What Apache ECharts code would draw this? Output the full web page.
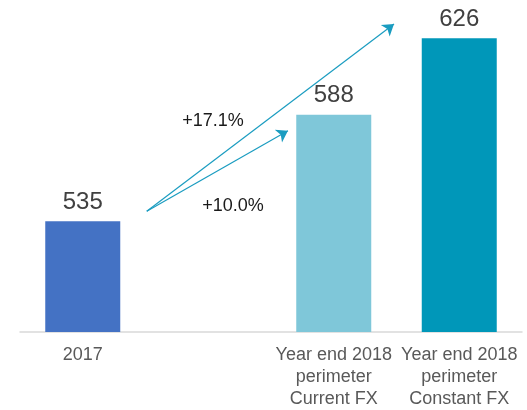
<!DOCTYPE html>
<html>
<head>
<meta charset="utf-8">
<script src="https://cdn.jsdelivr.net/npm/echarts@6/dist/echarts.min.js"></script>
<style>html,body{margin:0;padding:0;background:#fff}#c{width:527px;height:410px}</style>
</head>
<body>
<div id="c"></div>
<script>
const categories = ['2017', '', 'Year end 2018\nperimeter\nCurrent FX', 'Year end 2018\nperimeter\nConstant FX'];
const values = [535, null, 588, 626];
const barColors = ['#4472C4', '#4472C4', '#7FC7D9', '#0097B9'];
const arrowStart = [0.51, 540];
const arrowEnds = [[2.48, 633], [1.635, 580]];
const growthLabels = ['+17.1%', '+10.0%'];
const growthLabelPos = [[1.038, 585.0], [1.197, 542.4]];

const chart = echarts.init(document.getElementById('c'), null, {renderer: 'canvas'});
const font = '"Liberation Sans", Arial, sans-serif';
chart.setOption({
  animation: false,
  grid: {left: 20, right: 5, top: 10, bottom: 77, containLabel: false},
  xAxis: [{
    type: 'category', data: categories,
    axisLine: {show: true, lineStyle: {color: '#D9D9D9', width: 1.5}},
    axisTick: {show: false},
    axisLabel: {interval: 0, color: '#595959', fontSize: 18, fontFamily: font, lineHeight: 22, margin: 12}
  }, {
    type: 'value', min: -0.5, max: 3.5, show: false
  }],
  yAxis: {type: 'value', min: 480, max: 640, show: false, splitLine: {show: false}},
  series: [{
    type: 'bar', data: values.map((v, i) => ({value: v, itemStyle: {color: barColors[i]}})),
    barWidth: 75,
    label: {show: true, position: 'top', distance: 7, color: '#404040', fontSize: 24, fontFamily: font}
  }, {
    type: 'lines', coordinateSystem: 'cartesian2d', xAxisIndex: 1, silent: true,
    symbol: ['none', 'arrow'], symbolSize: 11,
    lineStyle: {color: '#1A9CC0', width: 1.2, opacity: 1, curveness: 0},
    data: arrowEnds.map(e => ({coords: [arrowStart, e]}))
  }]
});
chart.setOption({
  graphic: growthLabels.map((t, i) => {
    const p = chart.convertToPixel({xAxisIndex: 1, yAxisIndex: 0}, growthLabelPos[i]);
    return {
      type: 'text', x: p[0], y: p[1], silent: true,
      style: {text: t, fill: '#1a1a1a', fontSize: 18, fontFamily: font, align: 'center', verticalAlign: 'middle'}
    };
  })
});
</script>
</body>
</html>
